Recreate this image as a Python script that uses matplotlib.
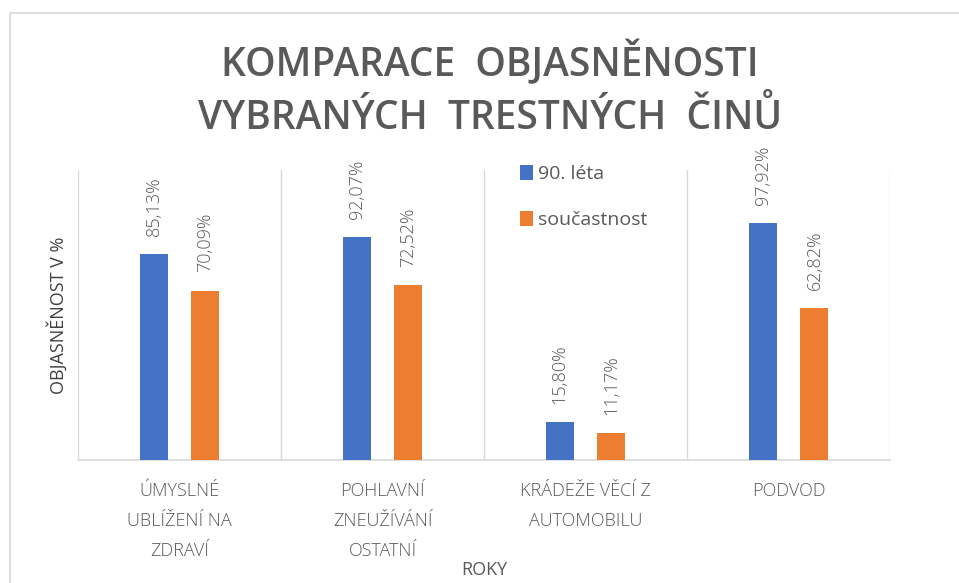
import matplotlib.pyplot as plt
import matplotlib.patches as patches
import numpy as np

categories = ["ÚMYSLNÉ\nUBLÍŽENÍ NA\nZDRAVÍ", "POHLAVNÍ\nZNEUŽÍVÁNÍ\nOSTATNÍ",
              "KRÁDEŽE VĚCÍ Z\nAUTOMOBILU", "PODVOD"]
series_names = ["90. léta", "součastnost"]
vals_90 = [85.13, 92.07, 15.80, 97.92]
vals_now = [70.09, 72.52, 11.17, 62.82]

BLUE = "#4472C4"
ORANGE = "#ED7D31"
GRAY = "#595959"
LIGHT = "#D9D9D9"

plt.rcParams["font.family"] = ["Open Sans", "DejaVu Sans"]

fig = plt.figure(figsize=(9.59, 5.83), dpi=100)
fig.patch.set_facecolor("white")
fig.add_artist(patches.Rectangle((10/959, -0.01), 1.0, 1 - 13/583 + 0.01,
                                 transform=fig.transFigure, fill=False,
                                 edgecolor=LIGHT, lw=1.2))

ax = fig.add_axes([78/959, 1 - 460/583, 812/959, 290/583])
x = np.arange(len(categories))
w = 0.138
off = 0.128
b1 = ax.bar(x - off, vals_90, width=w, color=BLUE, label=series_names[0], zorder=3)
b2 = ax.bar(x + off, vals_now, width=w, color=ORANGE, label=series_names[1], zorder=3)

for bars, vals in [(b1, vals_90), (b2, vals_now)]:
    for b, v in zip(bars, vals):
        ax.text(b.get_x() + b.get_width()/2, v + 7.5, f"{v:.2f}".replace(".", ",") + "%",
                rotation=90, ha="center", va="bottom", fontsize=13, color=GRAY,
                fontweight="light")

ax.set_xlim(-0.5, len(categories) - 0.5)
ax.set_ylim(0, 120)
for xv in np.arange(-0.5, len(categories), 1.0):
    ax.axvline(xv, color=LIGHT, lw=1, zorder=1)
for sp in ["top", "right", "left"]:
    ax.spines[sp].set_visible(False)
ax.spines["bottom"].set_color(LIGHT)
ax.spines["bottom"].set_linewidth(1.2)
ax.set_yticks([])
ax.set_xticks(x)
ax.set_xticklabels(categories, fontsize=13, color=GRAY, linespacing=1.85,
                   fontweight="light")
ax.tick_params(axis="x", length=0, pad=16)

ax.set_ylabel("OBJASNĚNOST V %", fontsize=13, color="#404040", labelpad=7)
ax.set_xlabel("ROKY", fontsize=13, color=GRAY, labelpad=1)

fig.suptitle("KOMPARACE  OBJASNĚNOSTI\nVYBRANÝCH  TRESTNÝCH  ČINŮ",
             x=490/959, y=1 - 41/583, fontsize=28, fontweight="semibold",
             color=GRAY, linespacing=1.42, va="top")

leg = ax.legend(loc="upper left", bbox_to_anchor=(0.535, 1.045), frameon=False,
                fontsize=14, labelspacing=1.45, handlelength=0.65, handleheight=0.8,
                handletextpad=0.25, borderaxespad=0)
for t in leg.get_texts():
    t.set_color(GRAY)

fig.savefig("out.png", dpi=100, facecolor="white")
